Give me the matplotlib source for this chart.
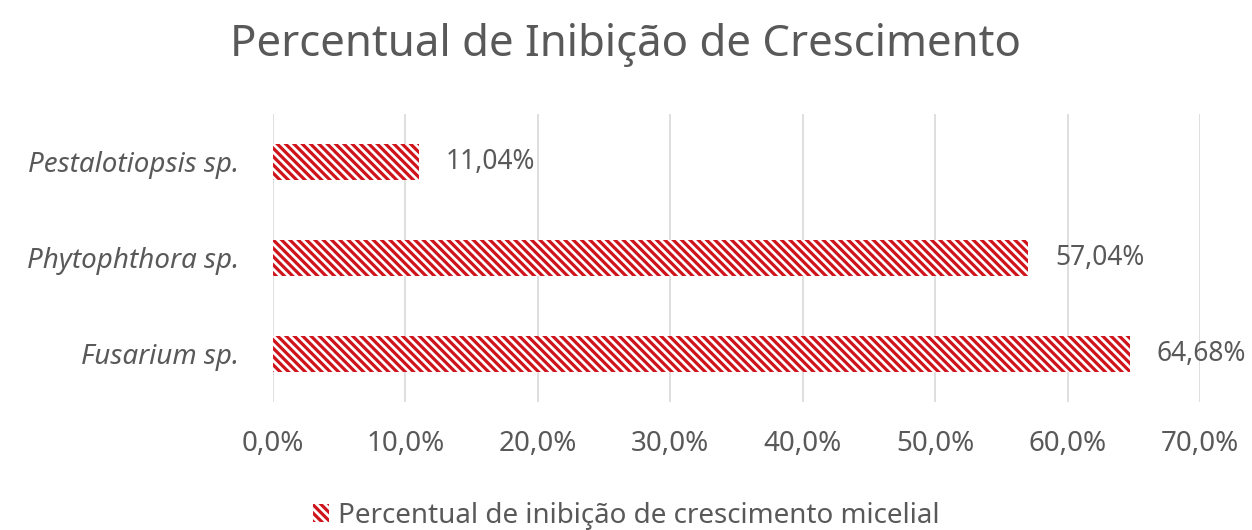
import matplotlib.pyplot as plt
import matplotlib.patches as mpatches
from matplotlib.ticker import FuncFormatter

# dados
especies = ["Fusarium sp.", "Phytophthora sp.", "Pestalotiopsis sp."]
inibicao = [64.68, 57.04, 11.04]
rotulos = ["64,68%", "57,04%", "11,04%"]
ticks = [0, 10, 20, 30, 40, 50, 60, 70]

vermelho = "#D0141C"
cinza = "#595959"

plt.rcParams['font.family'] = ['Noto Sans', 'DejaVu Sans']
plt.rcParams['hatch.linewidth'] = 2.3

fig = plt.figure(figsize=(12.52, 5.30), dpi=100)
ax = fig.add_axes([0.218, 0.2415, 0.7405, 0.5435])

y = list(range(len(especies)))
ax.barh(y, inibicao, height=0.37, color="white", edgecolor=vermelho, linewidth=0,
        hatch="\\\\\\\\", zorder=2)

for yi, v, r in zip(y, inibicao, rotulos):
    ax.text(v + 2.0, yi, r, va="center", ha="left", fontsize=19, color=cinza)

ax.set_xlim(0, 70)
ax.set_ylim(-0.5, 2.5)
ax.set_xticks(ticks)
ax.xaxis.set_major_formatter(FuncFormatter(lambda v, p: ("%.1f%%" % v).replace(".", ",")))
ax.set_yticks(y)
ax.set_yticklabels(especies, fontstyle="italic", fontsize=20)
ax.tick_params(axis="both", length=0, colors=cinza)
ax.tick_params(axis="x", pad=20, labelsize=20)
ax.tick_params(axis="y", pad=24)
ax.grid(axis="x", color="#D9D9D9", linewidth=1.2, zorder=0)
for s in ax.spines.values():
    s.set_visible(False)

fig.text(0.5, 0.915, "Percentual de Inibição de Crescimento", ha="center", va="center",
         fontsize=31.5, color=cinza)

leg_patch = mpatches.Patch(facecolor="white", edgecolor=vermelho, linewidth=0, hatch="\\\\\\\\",
                           label="Percentual de inibição de crescimento micelial")
fig.legend(handles=[leg_patch], loc="lower center", bbox_to_anchor=(0.5, -0.005), frameon=False,
           fontsize=20, labelcolor=cinza, handlelength=0.6, handleheight=0.6, handletextpad=0.3,
           borderaxespad=0, borderpad=0.1)

fig.savefig("out.png", dpi=100)
